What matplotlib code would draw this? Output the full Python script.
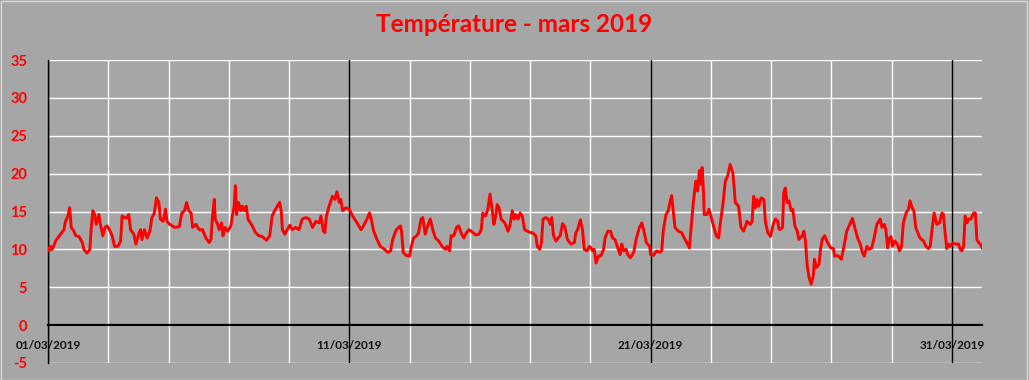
# -*- coding: utf-8 -*-

import matplotlib
matplotlib.use('Agg')
import matplotlib.pyplot as plt
from matplotlib.patches import Rectangle

# temps en jours depuis le 01/03/2019 00:00, temperature en degres
jours = [0.00, 0.04, 0.09, 0.14, 0.20, 0.25, 0.42, 0.53, 0.58, 0.66, 0.72, 0.77, 0.86, 0.92, 1.03, 1.14, 1.19, 1.30, 1.39, 1.43,
         1.49, 1.55, 1.60, 1.69, 1.74, 1.82, 1.89, 1.96, 2.04, 2.13, 2.21, 2.32, 2.41, 2.46, 2.60, 2.68, 2.74, 2.85, 2.92, 3.01,
         3.07, 3.12, 3.20, 3.29, 3.38, 3.45, 3.53, 3.60, 3.68, 3.73, 3.82, 3.90, 3.95, 4.04,
         4.09, 4.20, 4.36, 4.44, 4.53, 4.60, 4.67, 4.75, 4.80, 4.91, 5.02, 5.13, 5.24, 5.35, 5.41, 5.46, 5.52, 5.55, 5.63, 5.68,
         5.76, 5.81, 5.87, 5.96, 6.07, 6.12, 6.18, 6.22, 6.26, 6.32, 6.40, 6.45, 6.51, 6.58, 6.64, 6.78, 6.89, 7.00, 7.11, 7.25,
         7.36, 7.44, 7.55, 7.69, 7.74,
         7.78, 7.86, 7.94, 8.03, 8.11, 8.22, 8.33, 8.44, 8.56, 8.67, 8.78, 8.89, 9.00, 9.06, 9.14, 9.19, 9.24, 9.33, 9.44, 9.52,
         9.59, 9.67, 9.72, 9.78, 9.89, 10.00, 10.11, 10.26, 10.39, 10.50, 10.61, 10.67, 10.72, 10.81, 10.92, 11.03, 11.17, 11.28,
         11.37, 11.44, 11.56, 11.70, 11.74, 11.79, 11.89, 12.00, 12.06,
         12.13, 12.24, 12.30, 12.38, 12.44, 12.52, 12.60, 12.69, 12.77, 12.86, 12.97, 13.08, 13.19, 13.24, 13.33, 13.38, 13.47,
         13.56, 13.63, 13.71, 13.80, 13.89, 13.97, 14.08, 14.19, 14.30, 14.38, 14.43, 14.52, 14.60, 14.67, 14.74, 14.80, 14.86,
         14.91, 14.97, 15.04, 15.16, 15.27, 15.33, 15.41, 15.47, 15.52, 15.60, 15.67, 15.74, 15.82, 15.91, 16.02,
         16.08, 16.19, 16.24, 16.32, 16.38, 16.43, 16.52, 16.60, 16.67, 16.72, 16.78, 16.86, 16.93, 17.00, 17.08, 17.16, 17.24,
         17.36, 17.47, 17.52, 17.58, 17.67, 17.74, 17.80, 17.89, 17.97, 18.02, 18.08, 18.13, 18.19, 18.27, 18.36, 18.44, 18.49,
         18.58, 18.67, 18.74, 18.82, 18.91, 18.99, 19.04, 19.11, 19.19, 19.24, 19.33, 19.44, 19.52, 19.63, 19.71, 19.78, 19.86,
         19.97,
         20.00, 20.09, 20.20, 20.31, 20.37, 20.42, 20.51, 20.59, 20.64, 20.70, 20.76, 20.81, 20.92, 21.03, 21.12, 21.20, 21.29,
         21.34, 21.42, 21.50, 21.56, 21.62, 21.67, 21.71, 21.76, 21.78, 21.87, 21.94, 22.00, 22.09, 22.18, 22.26, 22.31, 22.40,
         22.48, 22.56, 22.64, 22.73, 22.78, 22.81, 22.92, 23.00, 23.09, 23.20, 23.31, 23.37, 23.42, 23.48, 23.53, 23.59, 23.67,
         23.76, 23.81, 23.89,
         23.98, 24.07, 24.14, 24.22, 24.26, 24.31, 24.38, 24.42, 24.47, 24.53, 24.59, 24.67, 24.72, 24.79, 24.87, 24.92, 25.03,
         25.09, 25.14, 25.20, 25.26, 25.33, 25.40, 25.44, 25.50, 25.59, 25.64, 25.70, 25.78, 25.87, 25.98, 26.07, 26.11, 26.20,
         26.29, 26.33, 26.42, 26.51, 26.59, 26.70, 26.78, 26.87, 26.96, 27.03, 27.09, 27.18, 27.26, 27.34, 27.42, 27.51, 27.62,
         27.68, 27.76, 27.81, 27.87, 27.92, 27.98,
         28.03, 28.11, 28.19, 28.26, 28.33, 28.39, 28.48, 28.56, 28.61, 28.69, 28.74, 28.80, 28.89, 28.94, 29.06, 29.14, 29.22,
         29.28, 29.33, 29.41, 29.50, 29.59, 29.67, 29.72, 29.78, 29.83, 29.89, 29.94, 30.03, 30.14, 30.22, 30.28, 30.33, 30.39,
         30.44, 30.50, 30.56, 30.63, 30.72, 30.78, 30.83, 30.89, 30.94, 31.00]

temp = [10.2, 9.8, 10.4, 10.0, 10.5, 11.1, 12.0, 12.6, 13.7, 14.4, 15.5, 12.9, 12.4, 11.8, 11.7, 10.9, 10.0, 9.5, 10.0, 12.6,
        15.1, 14.6, 13.3, 14.6, 13.3, 11.8, 12.9, 13.1, 12.6, 11.8, 10.4, 10.4, 11.1, 14.4, 14.1, 14.6, 12.6, 12.0, 10.7, 12.0,
        12.6, 11.3, 12.6, 11.5, 12.4, 14.2, 14.8, 16.8, 16.2, 14.0, 13.7, 15.3, 13.7, 13.3,
        13.2, 12.9, 13.0, 14.8, 15.1, 16.2, 15.1, 14.8, 12.9, 13.3, 12.6, 12.6, 11.5, 10.9, 11.3, 14.4, 16.6, 14.0, 13.3, 12.6,
        13.5, 11.8, 12.9, 12.4, 13.1, 14.4, 15.7, 18.4, 14.6, 16.2, 15.1, 15.7, 15.1, 15.7, 14.0, 13.1, 12.2, 11.8, 11.7, 11.2,
        11.8, 14.4, 15.3, 16.2, 15.1,
        12.6, 12.0, 12.6, 13.2, 12.6, 12.9, 12.6, 14.0, 14.2, 14.0, 12.9, 13.7, 13.5, 14.4, 12.4, 12.2, 14.4, 15.7, 17.0, 16.6,
        17.6, 16.2, 16.6, 15.1, 15.5, 15.3, 14.4, 13.5, 12.6, 13.3, 14.2, 14.8, 14.2, 12.4, 11.3, 10.4, 10.0, 9.6,
        9.8, 11.3, 12.6, 13.1, 12.2, 9.6, 9.2, 9.1, 10.4,
        11.5, 11.8, 12.2, 14.0, 14.2, 12.0, 13.1, 14.0, 12.6, 11.5, 11.1, 10.4, 10.0, 10.4, 9.8, 11.8, 11.8,
        12.9, 13.1, 12.2, 11.5, 12.2, 12.6, 12.3, 11.9, 12.0, 12.6, 14.8, 14.4, 15.3, 17.3, 15.3, 13.3, 14.4,
        15.9, 15.5, 14.0, 13.5, 12.4, 13.1, 15.1, 14.0, 14.6, 14.0, 14.8, 14.4, 12.6, 12.4, 12.2,
        12.2, 11.8, 10.4, 10.0, 10.9, 14.0, 14.2, 14.0, 13.3, 14.2, 11.8, 11.1, 11.5, 11.8, 13.4, 12.9, 11.3,
        10.7, 10.9, 12.2, 12.6, 13.9, 12.6, 10.0, 9.8, 10.4, 10.2, 9.8, 10.0, 8.2, 9.1, 9.2, 10.0, 11.5,
        12.4, 12.4, 11.5, 11.3, 10.2, 9.3, 10.7, 9.8, 10.0, 9.3, 8.9, 9.6, 11.3, 12.9, 13.5, 12.4, 10.9,
        10.4,
        9.3, 9.2, 9.8, 9.6, 9.8, 12.4, 14.6, 15.1, 16.2, 17.1, 14.8, 12.9, 12.4, 12.2, 11.5, 10.9, 10.2,
        12.6, 16.2, 19.0, 17.7, 20.4, 18.6, 20.8, 17.3, 14.6, 14.6, 15.3, 14.4, 13.1, 11.8, 11.5, 13.3, 15.9,
        19.0, 19.7, 21.2, 20.1, 17.9, 16.2, 15.7, 12.9, 12.4, 13.7, 13.3, 13.7, 17.0, 15.5, 16.6, 15.7, 16.8,
        16.6, 13.7, 12.2,
        11.7, 13.3, 14.0, 13.7, 12.7, 12.6, 12.9, 17.5, 18.1, 16.2, 16.4, 15.1, 15.3, 13.1, 12.4, 11.3, 11.8,
        12.4, 11.1, 7.8, 6.3, 5.4, 6.5, 8.7, 7.6, 8.0, 10.0, 11.4, 11.8, 10.9, 10.2, 10.1, 9.1, 9.2,
        8.9, 8.7, 10.4, 12.4, 13.1, 14.1, 12.9, 11.5, 10.7, 9.6, 9.1, 10.4, 10.0, 10.2, 11.5, 13.3, 14.0,
        12.9, 13.3, 12.6, 10.2, 11.4, 11.7,
        10.4, 11.1, 10.7, 9.8, 10.4, 13.5, 14.8, 15.3, 16.4, 15.4, 15.1, 12.9, 12.0, 11.5, 11.1, 10.4, 10.1,
        10.4, 12.2, 14.8, 13.3, 13.5, 14.8, 14.6, 12.0, 10.1, 10.7, 10.4, 10.8, 10.7, 10.7, 10.0, 9.8, 10.4,
        14.4, 13.5, 14.0, 14.0, 14.8, 14.8, 11.3, 10.9, 10.7, 10.2]

dates_pos = [0, 10, 20, 30]
dates_lab = ['01/03/2019', '11/03/2019', '21/03/2019', '31/03/2019']
y_ticks = list(range(-5, 40, 5))

gris = '#a6a6a6'
fig = plt.figure(figsize=(10.29, 3.80), dpi=100, facecolor=gris)
ax = fig.add_axes([48/1029, 17/380, 934/1029, 303/380])
ax.set_facecolor(gris)

ax.set_xlim(0, 31)
ax.set_ylim(-5, 35)

# grille blanche
for y in y_ticks:
    ax.axhline(y, color='white', lw=1.0, zorder=1)
for d in range(2, 31, 2):
    if d % 10 != 0:
        ax.axvline(d, color='white', lw=1.0, zorder=1)
for d in dates_pos:
    ax.axvline(d, color='black', lw=1.0, zorder=2)

ax.plot(jours, temp, color='#ff0000', lw=2.1, zorder=3)

for s in ['top', 'right']:
    ax.spines[s].set_visible(False)
ax.spines['left'].set_color('black')
ax.spines['left'].set_linewidth(1.0)
ax.spines['bottom'].set_position(('data', 0))
ax.spines['bottom'].set_linewidth(1.6)
ax.spines['bottom'].set_zorder(4)

ax.set_yticks(y_ticks)
ax.set_yticklabels([str(v) for v in y_ticks], color='red', fontsize=10.5,
                   fontweight='bold', family='Lato')
ax.tick_params(axis='y', length=0, pad=15)

ax.set_xticks(dates_pos)
ax.set_xticklabels(dates_lab, color='#111111', fontsize=8.5, fontweight='bold', family='Lato')
ax.tick_params(axis='x', length=0, pad=11)

fig.text(0.5, 1 - 25/380, 'Température - mars 2019', color='red', fontsize=17.5,
         fontweight='bold', family='Lato', ha='center', va='center')

# bordure claire du graphique
fig.patches.append(Rectangle((0.0005, 0.001), 0.998, 0.997, transform=fig.transFigure,
                             fill=False, edgecolor='#d9d9d9', lw=1.0))

fig.savefig('out.png', dpi=100, facecolor=gris)
